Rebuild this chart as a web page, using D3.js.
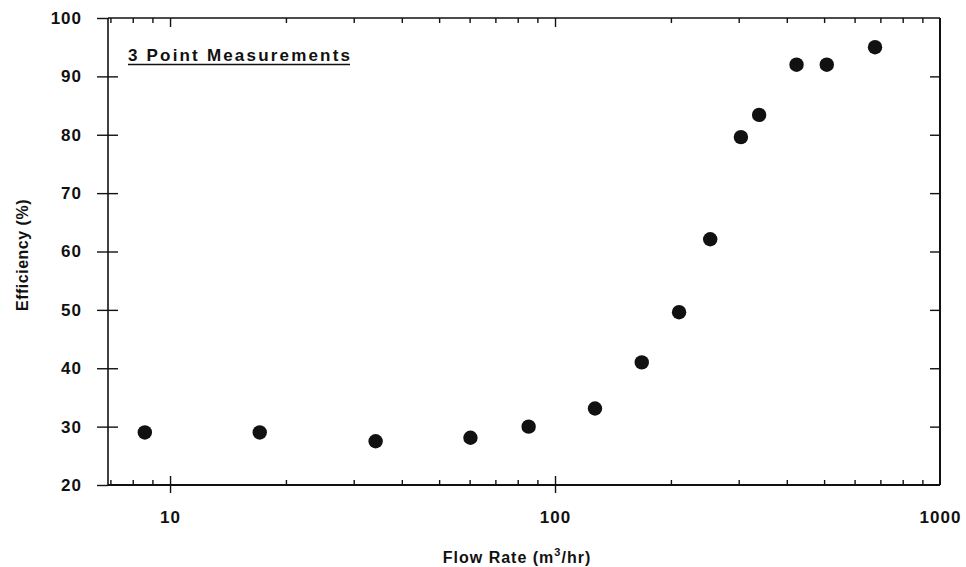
<!DOCTYPE html>
<html>
<head>
<meta charset="utf-8">
<script src="https://cdn.jsdelivr.net/npm/d3@7"></script>
<style>
  html, body { margin: 0; padding: 0; background: #fff; }
  svg text { font-family: "Liberation Sans", Arial, Helvetica, sans-serif; fill: #111; }
</style>
</head>
<body>
<svg id="chart" width="966" height="567"></svg>
<script>
// Flow rate (m³/hr) and measured efficiency (%)
const flowRate   = [8.6, 17.1, 34.2, 60.3, 85.4, 127, 168, 210, 253, 304, 339, 424, 508, 678];
const efficiency = [29.0, 29.0, 27.5, 28.1, 30.0, 33.1, 41.0, 49.6, 62.1, 79.6, 83.4, 92.0, 92.0, 95.0];

const xMajorTicks = [10, 100, 1000];
const yTicks = [20, 30, 40, 50, 60, 70, 80, 90, 100];
const xDomain = [6.9, 1000];
const yDomain = [20, 100];

const titleText = "3 Point Measurements";
const xLabel = "Flow Rate (m";
const yLabel = "Efficiency (%)";

const plot = { left: 108, right: 940, top: 18, bottom: 485 };
const ink = "#111";

const svg = d3.select("#chart");

const x = d3.scaleLog().domain(xDomain).range([plot.left, plot.right]);
const y = d3.scaleLinear().domain(yDomain).range([plot.bottom, plot.top]);

const allXTicks = x.ticks().filter(v => v > xDomain[0] && v <= xDomain[1]);
const isMajor = v => xMajorTicks.includes(v);

function styleAxis(g) {
  g.select(".domain").remove();
  g.selectAll(".tick line").attr("stroke", ink).attr("stroke-width", 1.4);
  g.selectAll(".tick text")
    .attr("font-size", 17).attr("font-weight", "bold")
    .attr("letter-spacing", 1).attr("fill", ink);
}

// Left axis: labelled ticks outside plus inner ticks, so each tick crosses the axis
svg.append("g").attr("transform", `translate(${plot.left},0)`)
  .call(d3.axisLeft(y).tickValues(yTicks).tickSize(11).tickPadding(15).tickFormat(d3.format("d")))
  .call(styleAxis);
svg.append("g").attr("transform", `translate(${plot.left},0)`)
  .call(d3.axisRight(y).tickValues(yTicks.slice(1, -1)).tickSize(10).tickFormat(""))
  .call(styleAxis);

// Right axis: inward ticks only
svg.append("g").attr("transform", `translate(${plot.right},0)`)
  .call(d3.axisLeft(y).tickValues(yTicks.slice(1, -1)).tickSize(10).tickFormat(""))
  .call(styleAxis);

// Bottom axis: major ticks hang below with labels; minor and major ticks point inward
svg.append("g").attr("transform", `translate(0,${plot.bottom})`)
  .call(d3.axisBottom(x).tickValues(xMajorTicks.filter(v => v < 1000)).tickSize(8).tickFormat(""))
  .call(styleAxis);
svg.append("g").attr("transform", `translate(0,${plot.bottom})`)
  .call(d3.axisBottom(x).tickValues(xMajorTicks).tickSize(0).tickPadding(26).tickFormat(d3.format("d")))
  .call(styleAxis);
svg.append("g").attr("transform", `translate(0,${plot.bottom})`)
  .call(d3.axisTop(x).tickValues(allXTicks.filter(v => !isMajor(v))).tickSize(5).tickFormat(""))
  .call(styleAxis);
svg.append("g").attr("transform", `translate(0,${plot.bottom})`)
  .call(d3.axisTop(x).tickValues(xMajorTicks.filter(v => v < 1000)).tickSize(9).tickFormat(""))
  .call(styleAxis);

// Top axis: inward ticks
svg.append("g").attr("transform", `translate(0,${plot.top})`)
  .call(d3.axisBottom(x).tickValues(allXTicks.filter(v => !isMajor(v))).tickSize(5).tickFormat(""))
  .call(styleAxis);
svg.append("g").attr("transform", `translate(0,${plot.top})`)
  .call(d3.axisBottom(x).tickValues(xMajorTicks.filter(v => v < 1000)).tickSize(9).tickFormat(""))
  .call(styleAxis);

// Plot frame
const frame = svg.append("g").attr("stroke", ink).attr("fill", "none");
frame.append("line").attr("x1", plot.left).attr("x2", plot.right).attr("y1", plot.top).attr("y2", plot.top).attr("stroke-width", 1.3);
frame.append("line").attr("x1", plot.left).attr("x2", plot.right).attr("y1", plot.bottom).attr("y2", plot.bottom).attr("stroke-width", 1.8);
frame.append("line").attr("x1", plot.left).attr("x2", plot.left).attr("y1", plot.top).attr("y2", plot.bottom).attr("stroke-width", 1.6);
frame.append("line").attr("x1", plot.right).attr("x2", plot.right).attr("y1", plot.top).attr("y2", plot.bottom).attr("stroke-width", 2);

// Data points
svg.append("g").selectAll("circle")
  .data(flowRate.map((f, i) => ({ f, e: efficiency[i] })))
  .join("circle")
  .attr("cx", d => x(d.f))
  .attr("cy", d => y(d.e))
  .attr("r", 7.2)
  .attr("fill", ink);

// Underlined title inside the plot
svg.append("text")
  .attr("x", 128).attr("y", 61)
  .attr("font-size", 17).attr("font-weight", "bold")
  .attr("textLength", 222).attr("lengthAdjust", "spacing")
  .text(titleText);
svg.append("line")
  .attr("x1", 128).attr("x2", 350).attr("y1", 64.5).attr("y2", 64.5)
  .attr("stroke", ink).attr("stroke-width", 1.6);

// X axis title with superscript
const xt = svg.append("text")
  .attr("x", 517).attr("y", 563)
  .attr("text-anchor", "middle")
  .attr("font-size", 16).attr("font-weight", "bold").attr("letter-spacing", 1);
xt.append("tspan").text(xLabel);
xt.append("tspan").attr("dy", -7).attr("font-size", 11).text("3");
xt.append("tspan").attr("dy", 7).text("/hr)");

// Y axis title
svg.append("text")
  .attr("transform", "translate(28,255) rotate(-90)")
  .attr("text-anchor", "middle")
  .attr("font-size", 16).attr("font-weight", "bold").attr("letter-spacing", 0.5)
  .text(yLabel);
</script>
</body>
</html>
